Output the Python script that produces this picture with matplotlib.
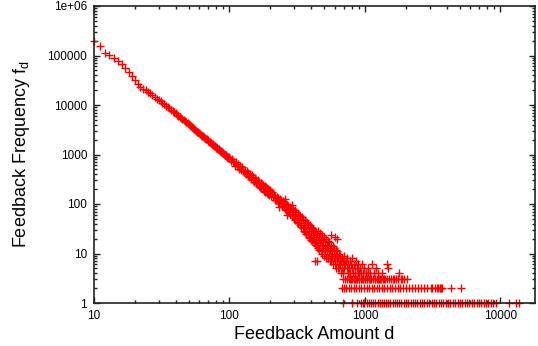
import matplotlib
matplotlib.use("Agg")
import matplotlib.pyplot as plt
import matplotlib.ticker as mticker
import numpy as np

plt.rcParams['font.family'] = ['Liberation Sans', 'DejaVu Sans']

# feedback amount d = 10..99, one point each
head_d = np.arange(10, 100)
head_f = [196000, 152000, 113000, 101000, 89000, 79000, 68000, 57000, 46000, 38500,
          32000, 26800, 23600, 21500, 19700, 18400, 17100, 15700, 14600, 13500,
          12600, 11900, 11000, 10400, 9700, 9150, 8600, 8050, 7550, 7150,
          6800, 6400, 6120, 5730, 5480, 5150, 4960, 4660, 4490, 4230,
          4090, 3880, 3720, 3580, 3420, 3260, 3150, 3000, 2880, 2790,
          2690, 2590, 2490, 2400, 2320, 2230, 2160, 2080, 2010, 1950,
          1880, 1830, 1760, 1710, 1650, 1600, 1550, 1510, 1460, 1420,
          1380, 1340, 1300, 1270, 1230, 1200, 1170, 1140, 1110, 1080,
          1055, 1030, 1000, 980, 955, 930, 905, 885, 865, 845]

# d = 100..198 (even values)
mid_d = np.arange(100, 200, 2)
mid_f = [870, 730, 810, 690, 700, 590, 690, 580, 650, 510,
         575, 480, 550, 460, 435, 490, 400, 460, 370, 430,
         350, 400, 320, 380, 300, 350, 280, 330, 262, 310,
         250, 300, 232, 280, 222, 270, 207, 255, 198, 245,
         187, 235, 178, 224, 168, 212, 158, 202, 153, 192]

# scattered part of the curve, d = 200..~1800 with f >= 4
tail_d = [200, 203, 206, 209, 212, 215, 218, 221, 224, 227, 230, 232, 233, 236, 239,
          242, 245, 248, 251, 254, 255, 257, 260, 263, 265, 266, 269, 272, 275, 278,
          281, 284, 287, 288, 290, 293, 296, 299,
          302, 304, 306, 310, 314, 316, 318, 322, 326, 328, 330, 334, 338, 340, 342,
          346, 350, 352, 354, 358, 362, 364, 366, 370, 374, 376, 378, 382, 386, 388,
          390, 394, 398, 400, 402, 406, 410, 412, 414, 418, 422, 424, 426, 430, 431,
          434, 436, 438, 439, 442, 446, 448, 450,
          452, 455, 458, 462, 466, 470, 474, 478, 482, 486, 490, 494, 498, 502, 506,
          510, 514, 518, 522, 526, 530, 534, 538, 542, 546, 550, 554, 558, 560, 562,
          566, 570, 574, 578, 582, 586, 590, 594, 598, 600, 602, 606, 610, 614, 618,
          620, 622, 626, 630, 634, 638, 642, 646, 650, 655, 660, 665, 670, 675, 680,
          685, 690, 695, 700,
          705, 712, 725, 731, 738, 744, 751, 765, 772, 779, 786, 800, 808, 816, 824,
          840, 848, 856, 874, 883, 892, 910, 920, 940, 950, 975, 988, 1015, 1045, 1060,
          1090, 1125, 1160, 1200, 1245, 1340, 1450, 1470, 1790]
tail_f = [180, 148, 172, 138, 152, 122, 147, 118, 140, 108, 132, 88, 104, 127, 98,
          120, 93, 114, 86, 110, 125, 80, 102, 76, 60, 97, 72, 92, 68, 88,
          64, 84, 58, 95, 80, 56, 77, 53,
          74, 60, 48, 68, 44, 52, 64, 41, 60, 47, 37, 57, 35, 42, 54,
          32, 50, 38, 29, 48, 27, 34, 44, 25, 42, 31, 24, 39, 22, 28,
          37, 21, 35, 26, 19, 33, 18, 24, 31, 17, 29, 22, 16, 28, 7,
          15, 20, 26, 7, 14, 25, 19, 13,
          28, 12, 20, 17, 26, 11, 19, 15, 24, 10, 17, 13, 22, 9, 15,
          12, 20, 8, 14, 11, 18, 8, 13, 10, 17, 7, 12, 9, 24, 15,
          7, 11, 8, 14, 6, 10, 8, 13, 6, 22, 9, 7, 12, 5, 9,
          20, 7, 11, 5, 8, 6, 10, 5, 8, 6, 9, 4, 7, 5, 8,
          4, 7, 5, 6,
          9, 6, 7, 5, 8, 4, 6, 5, 7, 4, 6, 5, 8, 4, 6,
          5, 4, 7, 5, 4, 6, 4, 5, 4, 6, 4, 5, 4, 5, 4,
          4, 6, 4, 5, 4, 4, 6, 5, 4]

# low rows: d values where f = 3, 2, 1
f3_d = [685, 715, 740, 758, 775, 793, 805, 832, 840, 865, 875, 901, 910, 930, 950,
        962, 995, 1000, 1030, 1040, 1075, 1090, 1110, 1140, 1180, 1195, 1220, 1250,
        1270, 1300, 1310, 1370, 1380, 1400, 1460, 1500, 1550, 1600, 1650, 1700, 1750,
        1850, 1870, 1950, 2040]
f2_d = [680, 700, 725, 760, 790, 830, 860, 900, 940, 985, 1030, 1080, 1120, 1170,
        1220, 1270, 1330, 1390, 1450, 1520, 1590, 1660, 1740, 1820, 1910, 2010, 2120,
        2230, 2340, 2470, 2600, 2720, 2850, 3050, 3150, 3300, 3380, 3480, 3560, 3650,
        3700, 4300, 5150]
f1_d = [690, 800, 880, 930, 965, 990, 1030, 1065, 1110, 1150, 1190, 1240, 1290, 1330,
        1380, 1430, 1490, 1540, 1600, 1660, 1720, 1790, 1860, 1930, 2000, 2090, 2170,
        2260, 2350, 2440, 2540, 2650, 2750, 2860, 2980, 3100, 3230, 3360, 3500, 3640,
        3790, 3950, 4110, 4280, 4450, 4640, 4830, 5030, 5240, 5450, 5680, 5910, 6150,
        6410, 6670, 6950, 7230, 7530, 7840, 8160, 8500, 8850, 9200, 11500, 13000, 13800]

x_ticks = [10, 100, 1000, 10000]
x_labels = ["10", "100", "1000", "10000"]
y_ticks = [1, 10, 100, 1000, 10000, 100000, 1000000]
y_labels = ["1", "10", "100", "1000", "10000", "100000", "1e+06"]

fig = plt.figure(figsize=(5.38, 3.46), dpi=100)
ax = fig.add_axes([94 / 538, 43 / 346, 441 / 538, 297 / 346])

d_all = np.concatenate([head_d, mid_d, tail_d, f3_d, f2_d, f1_d])
f_all = np.concatenate([head_f, mid_f, tail_f,
                        np.full(len(f3_d), 3), np.full(len(f2_d), 2), np.full(len(f1_d), 1)])
ax.plot(d_all, f_all, linestyle="none", marker="+", color="#ff0000",
        markersize=5.5, markeredgewidth=1.0, clip_on=False)

ax.set_xscale("log")
ax.set_yscale("log")
ax.set_xlim(10, 18000)
ax.set_ylim(1, 1e6)

ax.xaxis.set_major_locator(mticker.FixedLocator(x_ticks))
ax.xaxis.set_major_formatter(mticker.FixedFormatter(x_labels))
ax.yaxis.set_major_locator(mticker.FixedLocator(y_ticks))
ax.yaxis.set_major_formatter(mticker.FixedFormatter(y_labels))
ax.xaxis.set_minor_locator(mticker.LogLocator(base=10, subs=np.arange(2, 10), numticks=20))
ax.yaxis.set_minor_locator(mticker.LogLocator(base=10, subs=np.arange(2, 10), numticks=20))
ax.xaxis.set_minor_formatter(mticker.NullFormatter())
ax.yaxis.set_minor_formatter(mticker.NullFormatter())

ax.tick_params(which="both", direction="in", top=True, right=True, color="#222222",
               width=1.0, labelsize=8.5, pad=5)
ax.tick_params(which="major", length=4.5)
ax.tick_params(which="minor", length=2.2)
for sp in ax.spines.values():
    sp.set_color("#222222")
    sp.set_linewidth(1.2)

ax.set_xlabel("Feedback Amount d", fontsize=13, labelpad=3)
ax.set_ylabel(r"Feedback Frequency f$_{\mathregular{d}}$", fontsize=13, labelpad=11)

fig.savefig("out.png", dpi=100)
